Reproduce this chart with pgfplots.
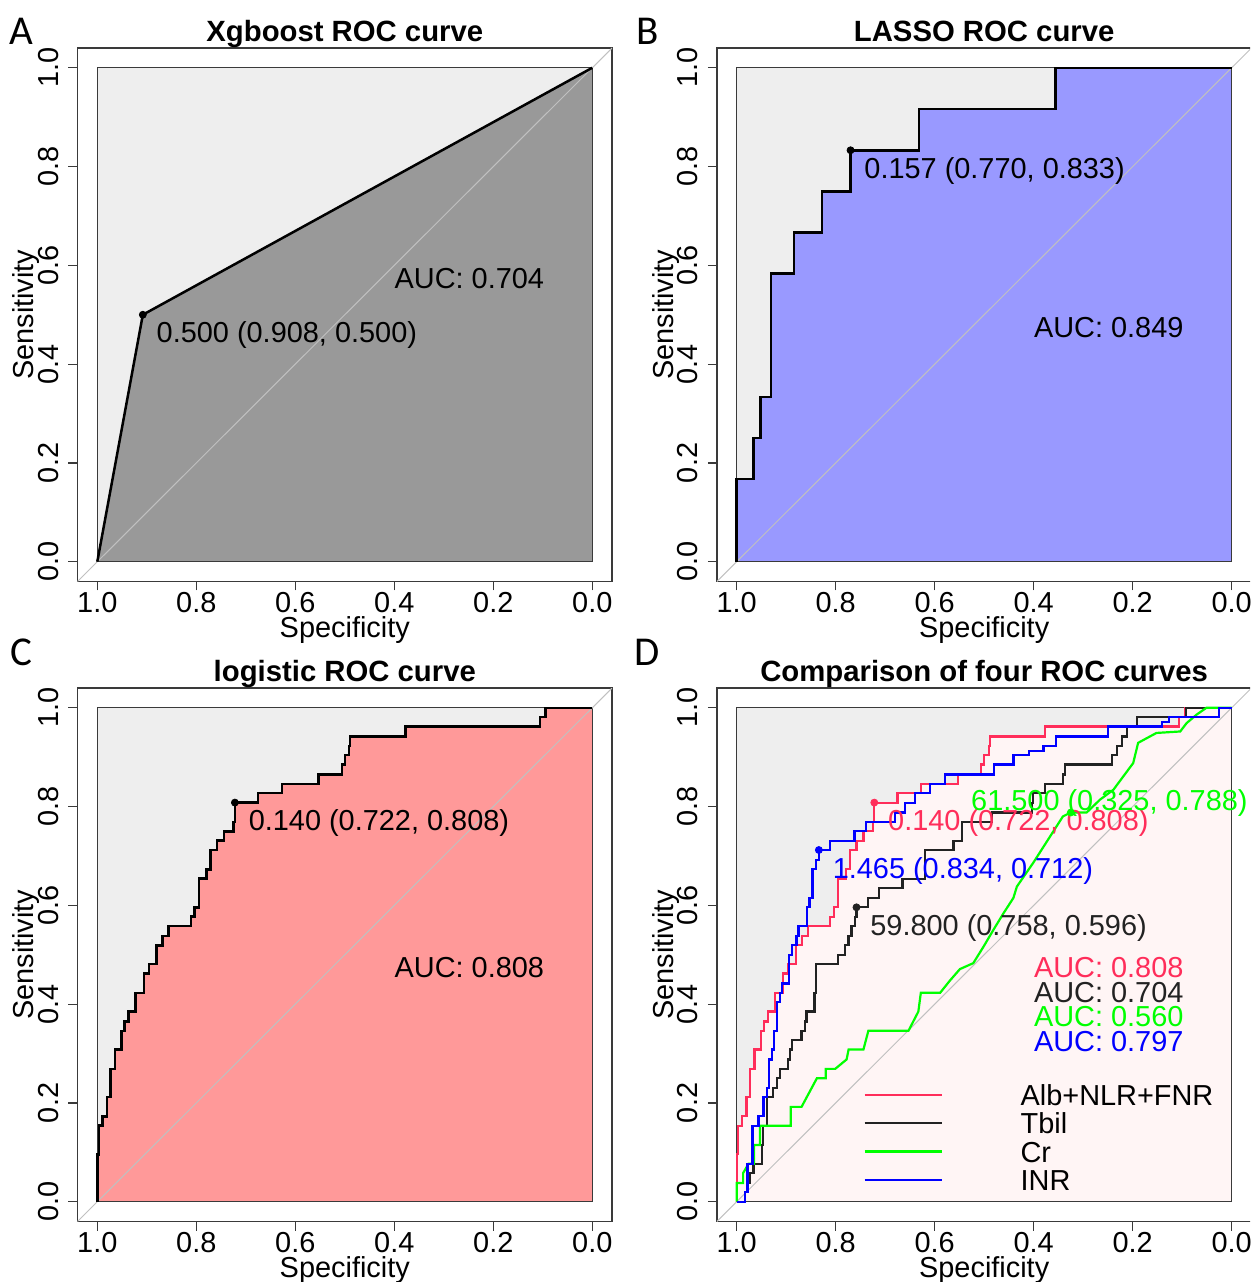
\documentclass[border=0pt]{standalone}
\usepackage{fontspec}
\setmainfont{Liberation Sans}
\newfontfamily\letterfont{Carlito}
\usepackage{pgfplots}
\usepackage{pgfplotstable}
\pgfplotsset{compat=1.18}

\definecolor{maxgrey}{HTML}{EEEEEE}
\definecolor{xgbfill}{HTML}{999999}
\definecolor{lassofill}{HTML}{9999FF}
\definecolor{logfill}{HTML}{FF9999}
\definecolor{cmpfill}{HTML}{FFF5F5}
\definecolor{diaggrey}{HTML}{C0C0C0}
\definecolor{boxcol}{HTML}{3A3A3A}
\definecolor{cred}{HTML}{FF2D5A}
\definecolor{cblack}{HTML}{222222}
\definecolor{cgreen}{HTML}{00FF00}
\definecolor{cblue}{HTML}{0000FF}

\newcommand{\txt}{\fontsize{14.45}{17}\selectfont}

% logistic model = Alb+NLR+FNR (panel C and red curve of D)
\pgfplotstableread{
spec sens
1.000 0.000
1.000 0.096
0.997 0.154
0.989 0.173
0.980 0.212
0.973 0.269
0.964 0.308
0.951 0.346
0.945 0.365
0.937 0.385
0.923 0.423
0.906 0.462
0.896 0.481
0.880 0.519
0.868 0.538
0.856 0.558
0.811 0.577
0.804 0.596
0.795 0.654
0.779 0.673
0.771 0.712
0.758 0.731
0.744 0.750
0.725 0.769
0.722 0.808
0.675 0.827
0.627 0.846
0.553 0.865
0.506 0.885
0.500 0.904
0.491 0.923
0.489 0.942
0.377 0.962
0.106 0.981
0.095 1.000
0.000 1.000
}\logdata

\pgfplotstableread{
spec sens
1.000 0.000
1.000 0.167
0.966 0.250
0.952 0.333
0.931 0.583
0.884 0.667
0.828 0.750
0.770 0.833
0.632 0.917
0.356 1.000
0.000 1.000
}\lassodata

\pgfplotstableread{
spec sens
1.000 0.000
0.908 0.500
0.000 1.000
}\xgbdata

\pgfplotstableread{
spec sens
1.000 0.000
0.987 0.000
0.983 0.019
0.978 0.038
0.973 0.058
0.966 0.077
0.949 0.115
0.947 0.154
0.939 0.212
0.926 0.231
0.919 0.250
0.912 0.269
0.896 0.288
0.892 0.308
0.889 0.327
0.869 0.346
0.862 0.365
0.859 0.385
0.843 0.423
0.840 0.481
0.795 0.500
0.781 0.519
0.774 0.538
0.768 0.558
0.761 0.577
0.758 0.596
0.734 0.615
0.712 0.635
0.665 0.654
0.620 0.712
0.562 0.731
0.545 0.769
0.485 0.788
0.404 0.808
0.401 0.827
0.377 0.846
0.340 0.865
0.337 0.885
0.242 0.904
0.232 0.923
0.222 0.942
0.212 0.962
0.192 0.981
0.092 1.000
0.000 1.000
}\tbildata

\pgfplotstableread{
spec sens
1.000 0.000
1.000 0.038
0.987 0.038
0.987 0.058
0.976 0.077
0.965 0.077
0.965 0.115
0.953 0.115
0.953 0.154
0.891 0.154
0.891 0.192
0.869 0.192
0.838 0.250
0.820 0.250
0.820 0.269
0.801 0.269
0.778 0.288
0.774 0.308
0.744 0.308
0.734 0.346
0.653 0.346
0.633 0.385
0.628 0.423
0.589 0.423
0.569 0.448
0.549 0.471
0.522 0.483
0.501 0.517
0.481 0.551
0.461 0.584
0.441 0.615
0.434 0.638
0.401 0.686
0.371 0.733
0.341 0.780
0.325 0.788
0.293 0.788
0.266 0.814
0.239 0.834
0.219 0.861
0.199 0.888
0.189 0.929
0.152 0.949
0.104 0.952
0.091 0.969
0.071 0.986
0.051 1.000
0.000 1.000
}\crdata

\pgfplotstableread{
spec sens
1.000 0.000
0.987 0.000
0.983 0.019
0.978 0.077
0.968 0.154
0.956 0.173
0.946 0.212
0.939 0.231
0.934 0.288
0.929 0.308
0.925 0.346
0.919 0.404
0.912 0.423
0.909 0.442
0.894 0.500
0.889 0.519
0.879 0.538
0.875 0.558
0.858 0.596
0.853 0.615
0.847 0.673
0.839 0.692
0.834 0.712
0.812 0.731
0.762 0.750
0.738 0.769
0.680 0.788
0.660 0.808
0.640 0.827
0.610 0.846
0.579 0.865
0.480 0.885
0.441 0.904
0.410 0.913
0.380 0.923
0.355 0.942
0.250 0.962
0.140 0.971
0.127 0.981
0.026 1.000
0.000 1.000
}\inrdata

\pgfplotsset{
  rocaxis/.style={
    scale only axis, width=267.3pt, height=266.75pt,
    anchor=south west,
    xmin=-0.04, xmax=1.04, ymin=-0.04, ymax=1.04,
    x dir=reverse,
    xtick={0,0.2,0.4,0.6,0.8,1}, ytick={0,0.2,0.4,0.6,0.8,1},
    xtick pos=left, ytick pos=left,
    tick align=outside, major tick length=4.5pt,
    tick style={boxcol, line width=0.6pt},
    axis line style={boxcol, line width=0.7pt},
    font=\txt,
    tick label style={font=\txt},
    /pgf/number format/fixed,
    /pgf/number format/fixed zerofill,
    /pgf/number format/precision=1,
    /pgf/number format/assume math mode=true,
    xticklabel style={anchor=north, inner sep=0pt},
    yticklabel style={rotate=90, anchor=south, inner sep=0pt},
    xticklabel shift=0.75pt, yticklabel shift=4.75pt,
    xlabel={Specificity}, ylabel={Sensitivity},
    xlabel style={at={(axis description cs:0.5,-0.1059)}, anchor=base, inner sep=0pt},
    ylabel style={at={(axis description cs:-0.0814,0.5)}, anchor=base, inner sep=0pt},
    every axis title shift=0pt,
    title style={at={(axis description cs:0.5,1.0131)}, anchor=base, inner sep=0pt,
      font=\fontsize{14.65}{17}\selectfont\bfseries},
  },
  boxfill/.style={fill=maxgrey, draw=none, forget plot},
  boxline/.style={draw=boxcol, line width=0.6pt, forget plot},
  diag/.style={diaggrey, line width=0.5pt, forget plot},
  thr/.style={only marks, mark=*, mark size=1.75pt, forget plot},
}
\tikzset{
  thrlab/.style={anchor=base west, inner sep=0pt, xshift=6.75pt, yshift=-14pt},
  auclab/.style={anchor=base west, inner sep=0pt, yshift=-11.35pt},
  letter/.style={anchor=base west, inner sep=0pt, font=\letterfont\fontsize{20.5}{24}\selectfont},
}

\begin{document}
\txt
\begin{tikzpicture}[x=0.5pt,y=0.5pt]
\path[use as bounding box] (0,0) rectangle (1250,1282);
\clip (0,0) rectangle (1250,1282);

% A: Xgboost
\begin{axis}[rocaxis, at={(38.75pt,350.25pt)}, title={Xgboost ROC curve}]
\addplot[boxfill] coordinates {(1,0) (1,1) (0,1) (0,0) (1,0)};
\addplot[fill=xgbfill, draw=none, forget plot] table {\xgbdata} \closedcycle;
\addplot[boxline] coordinates {(1,0) (1,1) (0,1) (0,0) (1,0)};
\addplot[diag] coordinates {(1.04,-0.04) (-0.04,1.04)};
\addplot[black, line width=1.25pt] table {\xgbdata};
\addplot[thr, black] coordinates {(0.908,0.500)};
\node[thrlab] at (axis cs:0.908,0.500) {0.500 (0.908, 0.500)};
\node[auclab] at (axis cs:0.4,0.6) {AUC: 0.704};
\end{axis}

% B: LASSO
\begin{axis}[rocaxis, at={(358.45pt,350.25pt)}, title={LASSO ROC curve}]
\addplot[boxfill] coordinates {(1,0) (1,1) (0,1) (0,0) (1,0)};
\addplot[const plot, fill=lassofill, draw=none, forget plot] table {\lassodata} \closedcycle;
\addplot[boxline] coordinates {(1,0) (1,1) (0,1) (0,0) (1,0)};
\addplot[diag] coordinates {(1.04,-0.04) (-0.04,1.04)};
\addplot[const plot, black, line width=1.25pt] table {\lassodata};
\addplot[thr, black] coordinates {(0.770,0.833)};
\node[thrlab] at (axis cs:0.770,0.833) {0.157 (0.770, 0.833)};
\node[auclab] at (axis cs:0.4,0.5) {AUC: 0.849};
\end{axis}

% C: logistic
\begin{axis}[rocaxis, at={(38.75pt,30.25pt)}, title={logistic ROC curve}]
\addplot[boxfill] coordinates {(1,0) (1,1) (0,1) (0,0) (1,0)};
\addplot[const plot, fill=logfill, draw=none, forget plot] table {\logdata} \closedcycle;
\addplot[boxline] coordinates {(1,0) (1,1) (0,1) (0,0) (1,0)};
\addplot[diag] coordinates {(1.04,-0.04) (-0.04,1.04)};
\addplot[const plot, black, line width=1.25pt] table {\logdata};
\addplot[thr, black] coordinates {(0.722,0.808)};
\node[thrlab] at (axis cs:0.722,0.808) {0.140 (0.722, 0.808)};
\node[auclab] at (axis cs:0.4,0.5) {AUC: 0.808};
\end{axis}

% D: comparison
\begin{axis}[rocaxis, at={(358.45pt,30.25pt)}, title={Comparison of four ROC curves},
  legend cell align=left,
  legend image code/.code={\draw[#1] (0pt,0pt) -- (38.7pt,0pt);},
  legend style={at={(axis cs:0.744,0.2449)}, anchor=north west, draw=none, fill=none,
    inner sep=0pt, outer sep=0pt, row sep=0pt, column sep=0pt,
    nodes={inner xsep=0pt, inner ysep=1.825pt, text height=10.5pt, text depth=0pt, font=\txt},
    /tikz/every odd column/.append style={column sep=38.8pt}},
]
\addplot[boxfill] coordinates {(1,0) (1,1) (0,1) (0,0) (1,0)};
\addplot[const plot, fill=cmpfill, draw=none, forget plot] table {\logdata} \closedcycle;
\addplot[boxline] coordinates {(1,0) (1,1) (0,1) (0,0) (1,0)};
\addplot[diag] coordinates {(1.04,-0.04) (-0.04,1.04)};
\addplot[const plot, cred, line width=1.1pt] table {\logdata};
\addlegendentry{Alb+NLR+FNR}
\addplot[const plot, cblack, line width=1.1pt] table {\tbildata};
\addlegendentry{Tbil}
\addplot[cgreen, line width=1.1pt] table {\crdata};
\addlegendentry{Cr}
\addplot[const plot, cblue, line width=1.1pt] table {\inrdata};
\addlegendentry{INR}
\addplot[thr, cred] coordinates {(0.722,0.808)};
\addplot[thr, cblack] coordinates {(0.758,0.596)};
\addplot[thr, cgreen] coordinates {(0.325,0.788)};
\addplot[thr, cblue] coordinates {(0.834,0.712)};
\node[thrlab, text=cred] at (axis cs:0.722,0.808) {0.140 (0.722, 0.808)};
\node[thrlab, text=cblack] at (axis cs:0.758,0.596) {59.800 (0.758, 0.596)};
\node[anchor=base west, inner sep=0pt, text=cgreen] at (axis cs:0.527,0.793) {61.500 (0.325, 0.788)};
\node[thrlab, text=cblue] at (axis cs:0.834,0.712) {1.465 (0.834, 0.712)};
\node[auclab, text=cred] at (axis cs:0.4,0.50) {AUC: 0.808};
\node[auclab, text=cblack] at (axis cs:0.4,0.45) {AUC: 0.704};
\node[auclab, text=cgreen] at (axis cs:0.4,0.40) {AUC: 0.560};
\node[auclab, text=cblue] at (axis cs:0.4,0.35) {AUC: 0.797};
\end{axis}

% panel letters
\node[letter] at (8.8,1237.5) {A};
\node[letter] at (636,1237.5) {B};
\node[letter] at (10,616) {C};
\node[letter] at (634,616) {D};
\end{tikzpicture}
\end{document}
